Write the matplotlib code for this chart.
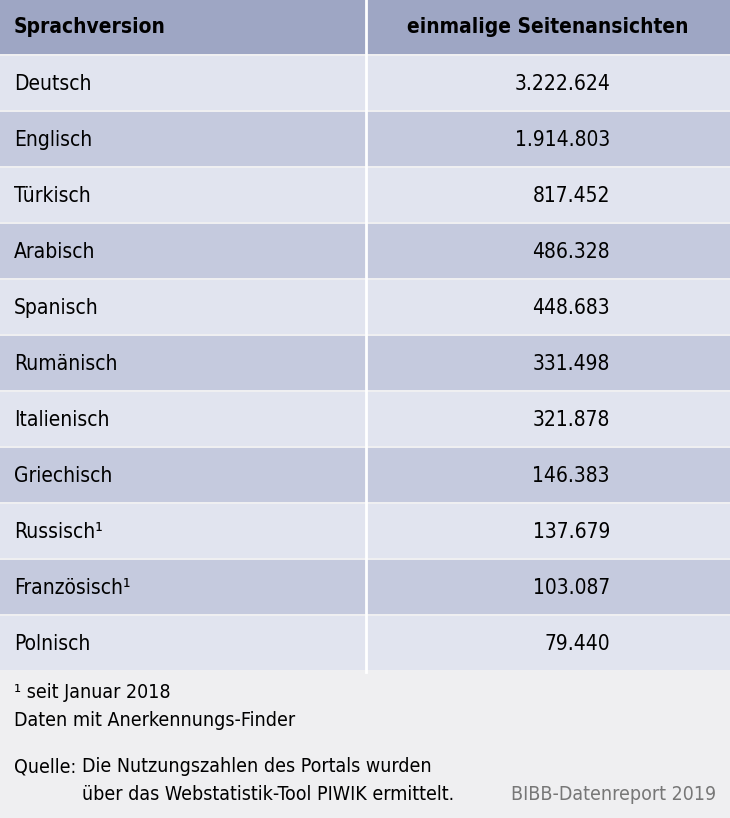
import matplotlib
matplotlib.use("Agg")
import matplotlib.pyplot as plt
from matplotlib.patches import Rectangle

languages = ["Deutsch", "Englisch", "Türkisch", "Arabisch", "Spanisch", "Rumänisch",
             "Italienisch", "Griechisch", "Russisch¹", "Französisch¹", "Polnisch"]
views = [3222624, 1914803, 817452, 486328, 448683, 331498,
         321878, 146383, 137679, 103087, 79440]
headers = ["Sprachversion", "einmalige Seitenansichten"]

W, H = 730, 818
fig = plt.figure(figsize=(W / 100, H / 100), dpi=100)
ax = fig.add_axes([0, 0, 1, 1])
ax.set_xlim(0, W)
ax.set_ylim(H, 0)
ax.axis("off")

font = dict(family="DejaVu Sans", stretch="condensed")
fig.patch.set_facecolor("#efeff1")

header_h, row_h, split = 54, 56, 366
light, dark, head = "#e1e4ef", "#c5cade", "#9ea6c4"

ax.add_patch(Rectangle((0, 0), W, header_h, color=head, lw=0))
ax.text(14, header_h / 2, headers[0], va="center", fontsize=15, weight="bold", **font)
ax.text(548, header_h / 2, headers[1], va="center", ha="center", fontsize=15, weight="bold", **font)

def fmt(v):
    return f"{v:,}".replace(",", ".")

for i, (lang, v) in enumerate(zip(languages, views)):
    y0 = header_h + 2 + i * row_h
    ax.add_patch(Rectangle((0, y0), W, row_h - 2, color=light if i % 2 == 0 else dark, lw=0))
    ax.text(14, y0 + row_h / 2, lang, va="center", fontsize=15, **font)
    ax.text(610, y0 + row_h / 2, fmt(v), va="center", ha="right", fontsize=15, **font)

table_bottom = header_h + 2 + len(languages) * row_h
ax.plot([split, split], [0, table_bottom], color="white", lw=2)

ax.text(14, 693, "¹ seit Januar 2018", va="center", fontsize=14, **font)
ax.text(14, 721, "Daten mit Anerkennungs-Finder", va="center", fontsize=14, **font)
ax.text(14, 767, "Quelle:", va="center", fontsize=14, **font)
ax.text(82, 767, "Die Nutzungszahlen des Portals wurden", va="center", fontsize=14, **font)
ax.text(82, 795, "über das Webstatistik-Tool PIWIK ermittelt.", va="center", fontsize=14, **font)
ax.text(716, 795, "BIBB-Datenreport 2019", va="center", ha="right", fontsize=14, color="#777777", **font)

fig.savefig("out.png", dpi=100, facecolor=fig.get_facecolor())
